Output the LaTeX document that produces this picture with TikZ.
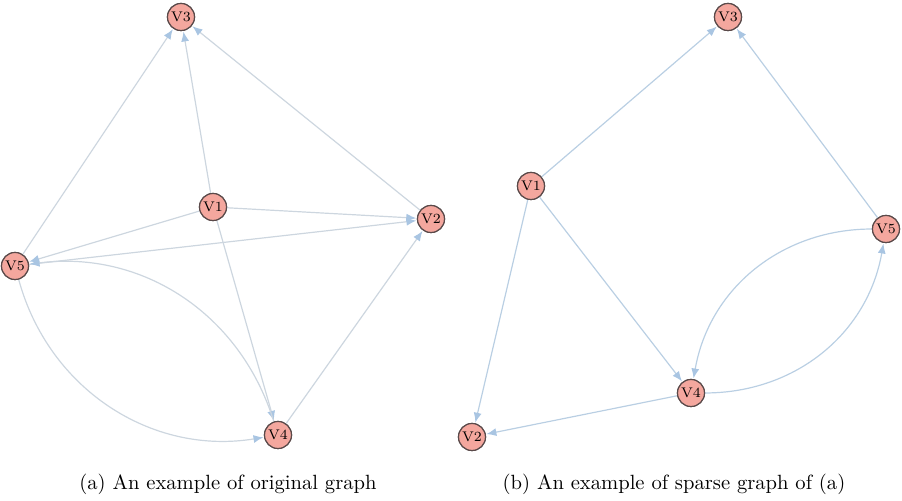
\documentclass[tikz,border=0pt]{standalone}
\usetikzlibrary{arrows.meta}
\definecolor{vfill}{HTML}{F4A79E}
\definecolor{vdraw}{HTML}{5A4A4A}
\definecolor{edgeA}{HTML}{CDD6DF}
\definecolor{edgeB}{HTML}{BACFE3}
\definecolor{tipc}{HTML}{A9C5E2}
\tikzset{
  vert/.style={circle, fill=vfill, draw=vdraw, line width=0.6pt,
    minimum size=13.5pt, inner sep=0pt, font=\fontsize{7}{7}\selectfont},
  arcA/.style={draw=edgeA, line width=0.6pt,
    -{Latex[length=5pt,width=4pt,color=tipc,fill=tipc]}, shorten >=0.3pt},
  arcB/.style={draw=edgeB, line width=0.6pt,
    -{Latex[length=5pt,width=4pt,color=tipc,fill=tipc]}, shorten >=0.3pt},
  captext/.style={font=\fontsize{10.3}{12}\selectfont}
}
\begin{document}
\begin{tikzpicture}[x=0.5pt, y=-0.5pt]
\useasboundingbox (0,0) rectangle (902,501);

% ---- (a) original graph ----
\node[vert] (a3) at (181,17) {V3};
\node[vert] (a1) at (213,207) {V1};
\node[vert] (a2) at (431,219) {V2};
\node[vert] (a5) at (15,266) {V5};
\node[vert] (a4) at (278,435) {V4};

\draw[arcA] (a1) -- (a3);
\draw[arcA] (a5) -- (a3);
\draw[arcA] (a2) -- (a3);
\draw[arcA] (a1) -- (a2);
\draw[arcA] (a5) -- (a2);
\draw[arcA] (a1) -- (a5);
\draw[arcA] (a1) -- (a4);
\draw[arcA] (a4) -- (a2);
\draw[arcA] (a5) to[bend right=42] (a4);
\draw[arcA] (a4) to[bend right=40] (a5);

% ---- (b) sparse graph ----
\node[vert] (b3) at (728,17) {V3};
\node[vert] (b1) at (531,186) {V1};
\node[vert] (b5) at (886,229) {V5};
\node[vert] (b4) at (691,393) {V4};
\node[vert] (b2) at (472,437) {V2};

\draw[arcB] (b1) -- (b3);
\draw[arcB] (b5) -- (b3);
\draw[arcB] (b1) -- (b4);
\draw[arcB] (b1) -- (b2);
\draw[arcB] (b4) -- (b2);
\draw[arcB] (b5) to[bend right=40] (b4);
\draw[arcB] (b4) to[bend right=40] (b5);

% redraw vertices above the arcs
\foreach \n/\x/\y/\t in {a3/181/17/V3, a1/213/207/V1, a2/431/219/V2, a5/15/266/V5, a4/278/435/V4,
                         b3/728/17/V3, b1/531/186/V1, b5/886/229/V5, b4/691/393/V4, b2/472/437/V2}
  \node[vert] at (\x,\y) {\t};

% ---- captions ----
\node[captext] (capa) at (228,484) {(a) An example of original graph};
\node[captext] (capb) at (674,484) {(b) An example of sparse graph of (a)};
\end{tikzpicture}
\end{document}
